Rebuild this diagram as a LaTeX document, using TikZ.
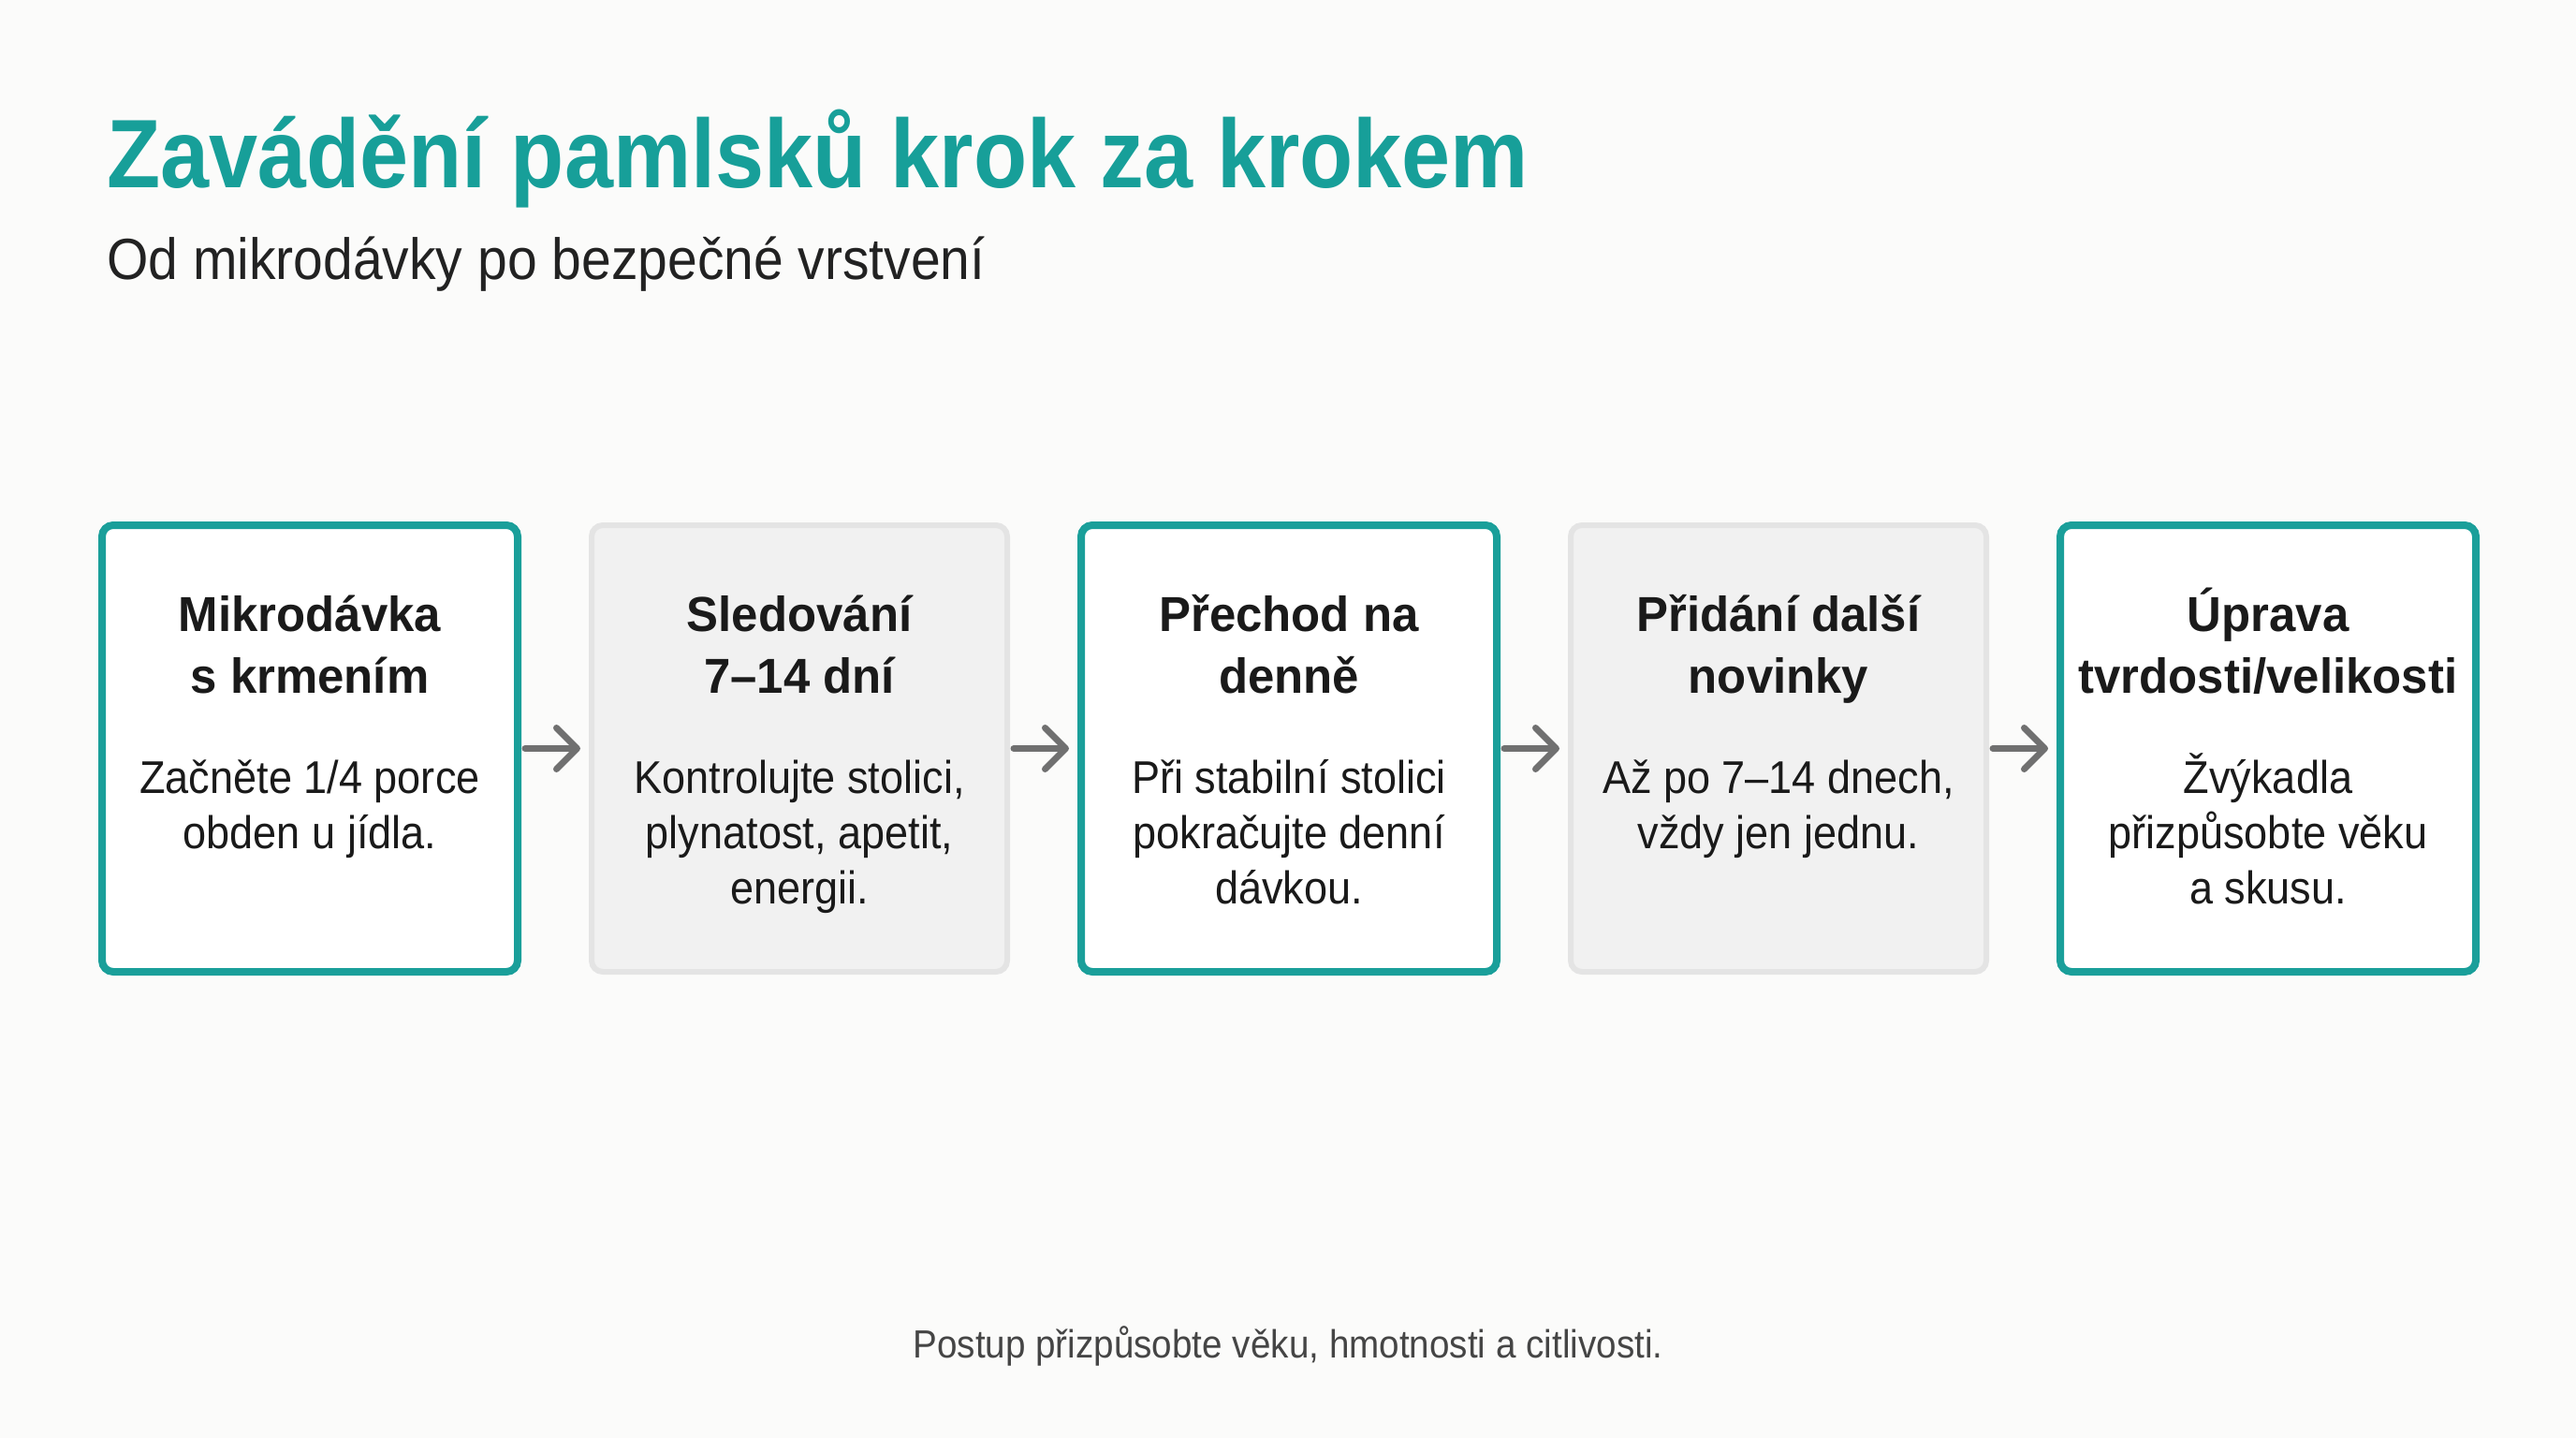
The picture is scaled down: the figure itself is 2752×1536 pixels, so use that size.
\documentclass[tikz,border=0pt]{standalone}
\usepackage{fontspec}
\setmainfont{Liberation Sans}
\newfontfamily\titlef{Liberation Sans}[FakeStretch=0.9]
\newfontfamily\headf{Liberation Sans}[FakeStretch=0.97]
\newfontfamily\bodyf{Liberation Sans}[FakeStretch=0.92]
\usetikzlibrary{arrows.meta}
\definecolor{bgc}{HTML}{FBFBFA}
\definecolor{tealc}{HTML}{179F99}
\definecolor{tealb}{HTML}{1A9F9A}
\definecolor{inkc}{HTML}{1A1A1A}
\definecolor{subc}{HTML}{222222}
\definecolor{footc}{HTML}{454545}
\definecolor{arrc}{HTML}{707070}
\definecolor{grayfill}{HTML}{F1F1F1}
\definecolor{grayline}{HTML}{E4E4E4}
\tikzset{
  txt/.style={inner sep=0pt, anchor=base},
  titletxt/.style={txt, anchor=base west, text=tealc, font=\titlef\bfseries\fontsize{104}{120}\selectfont},
  subtxt/.style={txt, anchor=base west, text=subc, font=\bodyf\fontsize{62}{72}\selectfont},
  headtxt/.style={txt, text=inkc, font=\headf\bfseries\fontsize{52.5}{62}\selectfont},
  bodytxt/.style={txt, text=inkc, font=\bodyf\fontsize{49}{58}\selectfont},
  foottxt/.style={txt, text=footc, font=\bodyf\fontsize{42}{50}\selectfont},
  boxbase/.style={rectangle, rounded corners=12pt, minimum width=444pt, minimum height=477pt, inner sep=0pt},
  tealbox/.style={boxbase, draw=tealb, line width=8pt, fill=white},
  graybox/.style={boxbase, draw=grayline, line width=6pt, fill=grayfill},
  arr/.style={draw=arrc, line width=7pt, line cap=round, line join=round,
    -{Straight Barb[length=22pt, width=44pt, line cap=round, line join=round]},
    shorten <=4pt, shorten >=9pt}
}
\begin{document}
\begin{tikzpicture}[x=1pt, y=-1pt]
\useasboundingbox (0,0) rectangle (2752,1536);
\fill[bgc] (0,0) rectangle (2752,1536);

% title
\node[titletxt] (title) at (114,200) {Zavádění pamlsků krok za krokem};
\node[subtxt] (subtitle) at (114,298) {Od mikrodávky po bezpečné vrstvení};

% boxes
\node[tealbox] (s1) at (331,799.5) {};
\node[graybox] (s2) at (854,799.5) {};
\node[tealbox] (s3) at (1377,799.5) {};
\node[graybox] (s4) at (1900,799.5) {};
\node[tealbox] (s5) at (2423,799.5) {};

% arrows
\draw[arr] (s1.east) -- (s2.west);
\draw[arr] (s2.east) -- (s3.west);
\draw[arr] (s3.east) -- (s4.west);
\draw[arr] (s4.east) -- (s5.west);

% step 1
\node[headtxt] (h1a) at (331,674) {Mikrodávka};
\node[headtxt] (h1b) at (331,740) {s krmením};
\node[bodytxt] (b1a) at (331,847) {Začněte 1/4 porce};
\node[bodytxt] (b1b) at (331,906) {obden u jídla.};

% step 2
\node[headtxt] (h2a) at (854,674) {Sledování};
\node[headtxt] (h2b) at (854,740) {7–14 dní};
\node[bodytxt] (b2a) at (854,847) {Kontrolujte stolici,};
\node[bodytxt] (b2b) at (854,906) {plynatost, apetit,};
\node[bodytxt] (b2c) at (854,965) {energii.};

% step 3
\node[headtxt] (h3a) at (1377,674) {Přechod na};
\node[headtxt] (h3b) at (1377,740) {denně};
\node[bodytxt] (b3a) at (1377,847) {Při stabilní stolici};
\node[bodytxt] (b3b) at (1377,906) {pokračujte denní};
\node[bodytxt] (b3c) at (1377,965) {dávkou.};

% step 4
\node[headtxt] (h4a) at (1900,674) {Přidání další};
\node[headtxt] (h4b) at (1900,740) {novinky};
\node[bodytxt] (b4a) at (1900,847) {Až po 7–14 dnech,};
\node[bodytxt] (b4b) at (1900,906) {vždy jen jednu.};

% step 5
\node[headtxt] (h5a) at (2423,674) {Úprava};
\node[headtxt] (h5b) at (2423,740) {tvrdosti/velikosti};
\node[bodytxt] (b5a) at (2423,847) {Žvýkadla};
\node[bodytxt] (b5b) at (2423,906) {přizpůsobte věku};
\node[bodytxt] (b5c) at (2423,965) {a skusu.};

% footer
\node[foottxt] (foot) at (1376,1450) {Postup přizpůsobte věku, hmotnosti a citlivosti.};
\end{tikzpicture}
\end{document}
